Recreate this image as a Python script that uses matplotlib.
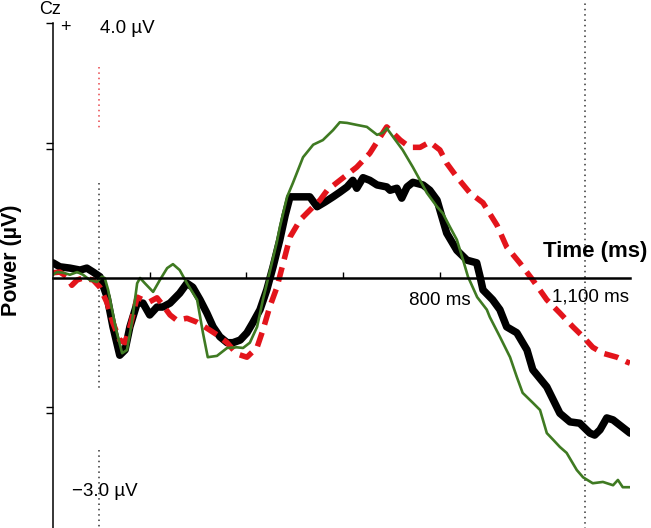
import matplotlib
matplotlib.use('Agg')
import matplotlib.pyplot as plt

plt.rcParams['font.family'] = ['Liberation Sans', 'DejaVu Sans']

# time (ms) and amplitude (uV)
black_t = [0, 14, 35, 56, 70, 83, 97, 112, 124, 138, 149, 159, 174, 186, 200, 215, 227, 242, 262, 277,
           289, 304, 318, 331, 345, 360, 372, 387, 401, 413, 428, 442, 455, 469, 480, 490, 511, 531, 546, 562,
           579, 593, 608, 620, 628, 641, 655, 670, 690, 697, 711, 721, 732, 744, 765, 779, 794, 800, 814, 835,
           856, 876, 883, 889, 909, 924, 938, 959, 980, 992, 1021, 1048, 1069, 1089, 1110, 1120, 1131, 1145,
           1158, 1172, 1193]
black_v = [0.23, 0.17, 0.15, 0.12, 0.15, 0.09, 0.02, -0.29, -0.74, -1.17, -1.09, -0.74, -0.38, -0.38, -0.56,
           -0.44, -0.44, -0.38, -0.23, -0.08, -0.14, -0.33, -0.53, -0.74, -0.89, -0.98, -0.98, -0.94, -0.83,
           -0.68, -0.48, -0.18, 0.17, 0.58, 0.95, 1.23, 1.23, 1.23, 1.08, 1.15, 1.23, 1.30, 1.38, 1.48, 1.36,
           1.52, 1.48, 1.41, 1.38, 1.33, 1.36, 1.21, 1.38, 1.45, 1.41, 1.33, 1.18, 1.03, 0.68, 0.42, 0.27, 0.23,
           0.02, -0.18, -0.33, -0.48, -0.74, -0.83, -1.09, -1.39, -1.65, -2.05, -2.18, -2.20, -2.35, -2.38,
           -2.30, -2.12, -2.15, -2.23, -2.35]

red_t = [0, 14, 29, 39, 50, 62, 83, 97, 112, 124, 138, 149, 159, 174, 186, 200, 215, 227, 242, 256,
         277, 298, 318, 339, 360, 380, 401, 422, 434, 448, 463, 475, 490, 511, 538, 552, 567, 593, 628, 655,
         682, 690, 697, 718, 738, 759, 779, 800, 814, 835, 862, 889, 918, 938, 965, 992, 1021, 1048, 1075,
         1096, 1116, 1137, 1166, 1186, 1193]
red_v = [0.08, 0.09, 0.02, -0.11, -0.03, 0.0, -0.03, -0.14, -0.38, -0.68, -0.94, -0.98, -0.74, -0.29, -0.33,
         -0.36, -0.30, -0.41, -0.56, -0.64, -0.61, -0.67, -0.76, -0.86, -0.98, -1.15, -1.20, -1.05, -0.79,
         -0.44, -0.14, 0.20, 0.62, 0.88, 1.08, 1.18, 1.33, 1.48, 1.68, 1.89, 2.20, 2.29, 2.24, 2.09, 1.98,
         1.98, 2.06, 1.94, 1.74, 1.53, 1.29, 1.14, 0.80, 0.47, 0.23, -0.03, -0.33, -0.53, -0.74, -0.89,
         -1.05, -1.14, -1.20, -1.27, -1.29]

green_t = [0, 8, 21, 35, 50, 62, 76, 91, 101, 107, 114, 122, 132, 143, 153, 163, 174, 180, 190, 207,
           221, 236, 248, 262, 277, 298, 310, 320, 339, 360, 380, 393, 407, 422, 434, 449, 463, 469, 484, 496,
           517, 538, 558, 579, 593, 608, 628, 649, 670, 682, 690, 703, 723, 744, 759, 773, 794, 806, 821, 835,
           848, 858, 877, 897, 903, 924, 945, 959, 971, 992, 1007, 1021, 1034, 1048, 1062, 1083, 1096, 1116,
           1137, 1158, 1168, 1178, 1193]
green_v = [0.05, 0.09, 0.08, 0.05, 0.09, 0.05, -0.03, -0.06, 0.02, 0.0, -0.18, -0.48, -0.83, -1.14, -1.09,
           -0.68, -0.08, 0.0, -0.08, -0.21, -0.03, 0.15, 0.21, 0.12, -0.08, -0.33, -0.83, -1.20, -1.18, -1.06,
           -1.05, -1.06, -0.98, -0.74, -0.33, 0.12, 0.55, 0.77, 1.23, 1.44, 1.83, 2.02, 2.09, 2.24, 2.36, 2.35,
           2.32, 2.29, 2.17, 2.20, 2.27, 2.14, 1.94, 1.68, 1.48, 1.29, 1.08, 0.98, 0.77, 0.58, 0.27, 0.02,
           -0.29, -0.48, -0.59, -0.89, -1.20, -1.50, -1.74, -1.89, -2.00, -2.35, -2.45, -2.56, -2.65, -2.91,
           -3.02, -3.11, -3.09, -3.14, -3.06, -3.17, -3.17]

x_ticks = [200, 400, 600, 800]
x_tick_labels = ['', '', '', '800 ms']
onset_ms = 96
end_ms = 1100

RED = '#e3141b'
GREEN = '#3f7a22'

fig = plt.figure(figsize=(6.51, 5.28), dpi=100)
ax = fig.add_axes([53 / 651, 0, 577 / 651, 505 / 528])
ax.set_xlim(0, 1193)
ax.set_ylim(-3.788, 3.864)

# marker lines
ax.plot([onset_ms, onset_ms], [1.44, -1.70], color='#333333', ls=(0, (1, 2.5)), lw=1.1)
ax.plot([onset_ms, onset_ms], [-2.61, -3.9], color='#333333', ls=(0, (1, 2.5)), lw=1.1, clip_on=False)
ax.plot([onset_ms, onset_ms], [3.2, 2.24], color=RED, ls=(0, (1, 2.5)), lw=1.1, alpha=0.8)
ax.plot([end_ms, end_ms], [-3.9, 4.3], color='#333333', ls=(0, (1, 2.5)), lw=1.1, clip_on=False)

ax.plot(black_t, black_v, color='black', lw=5.4, solid_joinstyle='round', solid_capstyle='round')
ax.plot(red_t, red_v, color=RED, lw=4.0, ls=(0, (2.6, 1.5)))
ax.plot(green_t, green_v, color=GREEN, lw=1.9)

for s in ['top', 'right']:
    ax.spines[s].set_visible(False)
ax.spines['bottom'].set_position(('data', 0))
ax.spines['bottom'].set_linewidth(1.8)
ax.spines['left'].set_linewidth(1.1)

ax.set_xticks(x_ticks)
ax.set_xticklabels(x_tick_labels)
ax.tick_params(axis='x', direction='in', length=4, width=1, pad=10, labelsize=13.5)
ax.set_yticks([3.864, 2.04, 1.96, -1.96, -2.04])
ax.set_yticklabels([])
ax.tick_params(axis='y', direction='out', length=5, width=1)

ax.text(1112, -0.16, '1,100 ms', fontsize=13.5, ha='center', va='top')
ax.text(1228, 0.24, 'Time (ms)', fontsize=16, fontweight='bold', ha='right', va='bottom')

fig.text(12 / 651, 1 - 260 / 528, 'Power (µV)', fontsize=15.5, fontweight='bold',
         rotation=90, ha='center', va='center')
fig.text(50 / 651, 1 - 9 / 528, 'Cz', fontsize=13, ha='center', va='center')
fig.text(65 / 651, 1 - 27 / 528, '+', fontsize=13, ha='center', va='center')
fig.text(127 / 651, 1 - 28.5 / 528, '4.0 µV', fontsize=13.5, ha='center', va='center')
fig.text(105 / 651, 1 - 492 / 528, '\u22123.0 µV', fontsize=13.5, ha='center', va='center')

fig.savefig('out.png', dpi=100)
